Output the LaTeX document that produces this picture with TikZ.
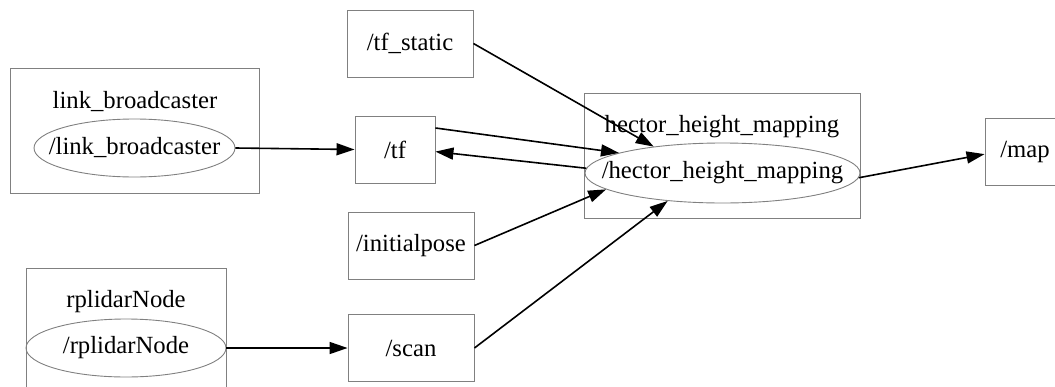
\documentclass[tikz,border=0pt]{standalone}
\usepackage{fontspec}
\setmainfont{Liberation Serif}
\usetikzlibrary{shapes.geometric,arrows.meta}
\begin{document}
\begin{tikzpicture}[x=1pt,y=-1pt,
  every node/.style={font=\fontsize{24.7}{28}\selectfont, inner sep=0pt},
  cluster/.style={draw=gray, line width=0.9pt, rectangle},
  topic/.style={draw=gray, line width=0.9pt, rectangle, minimum height=67pt},
  rosnode/.style={draw=gray, line width=0.9pt, ellipse},
  link/.style={line width=1.6pt, -{Triangle[length=18pt,width=12pt]}}]
\useasboundingbox (0,0) rectangle (1055,386);
\clip (0,0) rectangle (1055,386);
\draw
(134.5,130.5) node [cluster, minimum width=249pt, minimum height=125pt] (lbc) {}
(126,330.5) node [cluster, minimum width=200pt, minimum height=125pt] (rpc) {}
(722,155.5) node [cluster, minimum width=276pt, minimum height=125pt] (hhc) {}
(135,102) node (lbl) {link\_broadcaster}
(126,302) node (rpl) {rplidarNode}
(722,127) node (hhl) {hector\_height\_mapping}
(134.5,148) node [rosnode, minimum width=201pt, minimum height=58pt] (lb) {\makebox[0pt]{/link\_broadcaster}}
(126,348) node [rosnode, minimum width=200pt, minimum height=58pt] (rp) {\makebox[0pt]{/rplidarNode}}
(722.5,173) node [rosnode, minimum width=275pt, minimum height=60pt] (hh) {\makebox[0pt]{/hector\_height\_mapping}}
(410,43.5) node [topic, minimum width=126pt] (tfs) {/tf\_static}
(395,149.5) node [topic, minimum width=80pt] (tf) {/tf}
(411,245.5) node [topic, minimum width=126pt] (ip) {/initialpose}
(411,348) node [topic, minimum width=126pt] (scan) {/scan}
(1025,152) node [topic, minimum width=80pt] (map) {/map};
\draw [link] (lb.east) -- (tf.west);
\draw [link] (tfs.east) -- (hh.159);
\draw [link] (tf.28) -- (hh.169);
\draw [link] (hh.178) -- (tf.-3);
\draw [link] (ip.east) -- (hh.188);
\draw [link] (scan.east) -- (hh.207);
\draw [link] (hh.-2) -- (map.183);
\draw [link] (rp.east) -- (scan.west);
\end{tikzpicture}
\end{document}
